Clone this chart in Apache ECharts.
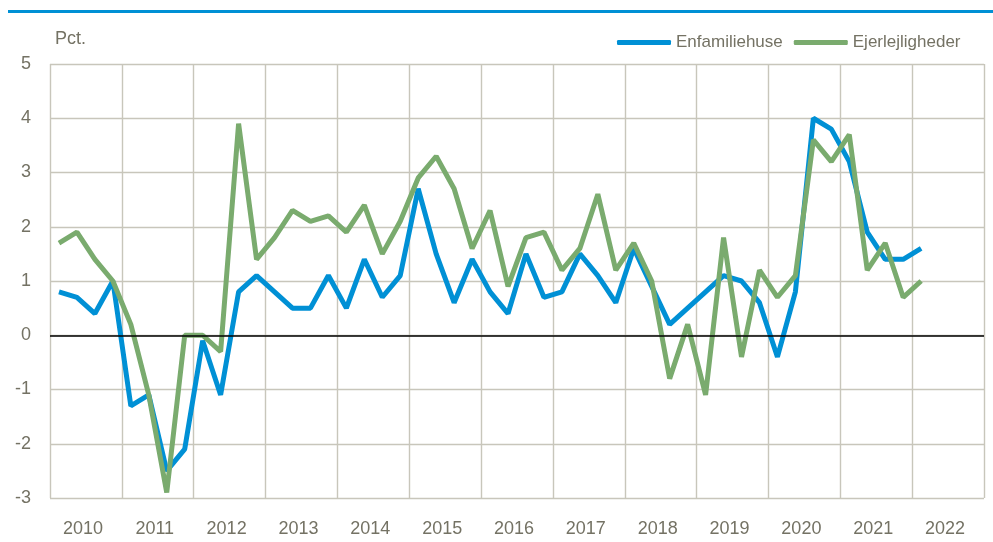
<!DOCTYPE html>
<html>
<head>
<meta charset="utf-8">
<script src="https://cdn.jsdelivr.net/npm/echarts@6/dist/echarts.min.js"></script>
<style>
  html, body { margin: 0; padding: 0; background: #fff; }
  #chart { width: 993px; height: 542px; }
</style>
</head>
<body>
<div id="chart"></div>
<script>
var years = ['2010', '2011', '2012', '2013', '2014', '2015', '2016', '2017', '2018', '2019', '2020', '2021', '2022'];
var yTicks = { min: -3, max: 5, step: 1 };

// quarterly change, pct. (2010Q1 - 2022Q1)
var enfamiliehuse = [
  0.8, 0.7, 0.4, 1.0, -1.3, -1.1, -2.5, -2.1, -0.1, -1.1, 0.8, 1.1,
  0.8, 0.5, 0.5, 1.1, 0.5, 1.4, 0.7, 1.1, 2.7, 1.5, 0.6, 1.4,
  0.8, 0.4, 1.5, 0.7, 0.8, 1.5, 1.1, 0.6, 1.6, 0.9, 0.2, 0.5,
  0.8, 1.1, 1.0, 0.6, -0.4, 0.8, 4.0, 3.8, 3.2, 1.9, 1.4, 1.4,
  1.6
];
var ejerlejligheder = [
  1.7, 1.9, 1.4, 1.0, 0.2, -1.1, -2.9, 0.0, 0.0, -0.3, 3.9, 1.4,
  1.8, 2.3, 2.1, 2.2, 1.9, 2.4, 1.5, 2.1, 2.9, 3.3, 2.7, 1.6,
  2.3, 0.9, 1.8, 1.9, 1.2, 1.6, 2.6, 1.2, 1.7, 1.0, -0.8, 0.2,
  -1.1, 1.8, -0.4, 1.2, 0.7, 1.1, 3.6, 3.2, 3.7, 1.2, 1.7, 0.7,
  1.0
];

var quarters = [];
years.forEach(function (y) {
  for (var q = 1; q <= 4; q++) quarters.push(y + 'K' + q);
});

var textColor = '#747264';
var gridColor = '#c8c6bb';
var font = '"Liberation Sans", Arial, sans-serif';

var chart = echarts.init(document.getElementById('chart'));

var option = {
  animation: false,
  textStyle: { fontFamily: font },
  grid: { left: 50, right: 9, top: 64, bottom: 44, containLabel: false },
  graphic: [
    {
      type: 'rect',
      shape: { x: 8, y: 10, width: 985, height: 3 },
      style: { fill: '#0090d5' }
    },
    {
      type: 'text',
      left: 55,
      top: 30,
      style: { text: 'Pct.', fill: textColor, font: '18px ' + font }
    }
  ],
  legend: {
    left: 612,
    top: 29,
    width: 375,
    itemWidth: 54,
    itemHeight: 5,
    itemGap: 11,
    icon: 'roundRect',
    textStyle: { color: textColor, fontSize: 17, fontFamily: font },
    data: ['Enfamiliehuse', 'Ejerlejligheder']
  },
  xAxis: [
    {
      type: 'category',
      data: years,
      boundaryGap: true,
      axisLine: { show: false },
      axisTick: { show: false },
      axisLabel: {
        color: textColor,
        fontSize: 18,
        margin: 22,
        padding: [0, 6, 0, 0]
      },
      splitLine: { show: true, lineStyle: { color: gridColor, width: 1.4 } }
    },
    {
      type: 'category',
      data: quarters,
      boundaryGap: true,
      position: 'bottom',
      show: false
    }
  ],
  yAxis: {
    type: 'value',
    min: yTicks.min,
    max: yTicks.max,
    interval: yTicks.step,
    axisLine: { show: false },
    axisTick: { show: false },
    axisLabel: { color: textColor, fontSize: 18, margin: 19 },
    splitLine: { show: true, lineStyle: { color: gridColor, width: 1.4 } }
  },
  series: [
    {
      name: 'Enfamiliehuse',
      type: 'line',
      xAxisIndex: 1,
      data: enfamiliehuse,
      symbol: 'none',
      color: '#0090d5',
      lineStyle: { width: 5, color: '#0090d5' },
      markLine: {
        silent: true,
        symbol: 'none',
        label: { show: false },
        lineStyle: { color: '#000', width: 1.5, type: 'solid' },
        data: [{ yAxis: 0 }]
      }
    },
    {
      name: 'Ejerlejligheder',
      type: 'line',
      xAxisIndex: 1,
      data: ejerlejligheder,
      symbol: 'none',
      color: '#7aab6e',
      lineStyle: { width: 5, color: '#7aab6e' }
    }
  ]
};

chart.setOption(option);

window.addEventListener('resize', function () {
  chart.resize();
});
</script>
</body>
</html>
